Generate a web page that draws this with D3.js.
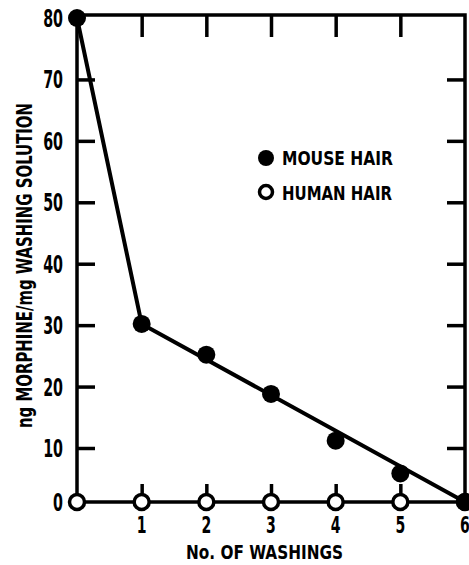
<!DOCTYPE html>
<html>
<head>
<meta charset="utf-8">
<script src="https://cdn.jsdelivr.net/npm/d3@7"></script>
<style>
  body { margin: 0; background: #fff; }
  text { font-family: "DejaVu Sans", sans-serif; font-stretch: condensed; font-weight: bold; fill: #000; }
</style>
</head>
<body>
<svg id="chart" width="469" height="565"></svg>
<script>
// washings 0..6
let washings = [0, 1, 2, 3, 4, 5, 6];
let mouseHair = [80, 30.2, 25.2, 18.8, 11.2, 5.3, 0];
let humanHair = [0, 0, 0, 0, 0, 0, 0];
// hand drawn fit line
let fitX = [0, 1, 6];
let fitY = [80, 30.2, 0];
let yTicks = [0, 10, 20, 30, 40, 50, 60, 70, 80];
let xTicks = [1, 2, 3, 4, 5, 6];

let svg = d3.select("#chart");

let xScale = d3.scaleLinear().domain([0, 6]).range([77, 465]);
// zero sits a little off the linear part in the original
let yScale = d3.scaleLinear().domain([0, 10, 80]).range([502, 448, 18]);

let axisStroke = 3.5;

// squeeze text horizontally like the condensed type of the original
let squeeze = (sel, x, y, sx) => sel.attr("transform", `translate(${x},${y}) scale(${sx},1)`);

// frame: left, top, right, bottom
let frame = svg.append("g").attr("stroke", "#000").attr("stroke-width", axisStroke).attr("fill", "none");
frame.append("path")
  .attr("d", d3.line()([
    [xScale(0), yScale(0)], [xScale(0), yScale(80) - 3], [xScale(6), yScale(80) - 3], [xScale(6), yScale(0)]
  ]));
frame.append("line")
  .attr("x1", xScale(0)).attr("x2", xScale(6))
  .attr("y1", yScale(0)).attr("y2", yScale(0));

// left axis with inward ticks
let leftAxis = d3.axisRight(yScale).tickValues(yTicks.slice(1, -1)).tickSize(18).tickFormat("");
let gl = svg.append("g").attr("transform", `translate(${xScale(0)},0)`).call(leftAxis);
// right axis, ticks pointing left
let rightAxis = d3.axisLeft(yScale).tickValues(yTicks.slice(1, -1)).tickSize(18).tickFormat("");
let gr = svg.append("g").attr("transform", `translate(${xScale(6)},0)`).call(rightAxis);
// top axis, ticks pointing down
let topAxis = d3.axisBottom(xScale).tickValues(xTicks.slice(0, -1)).tickSize(22).tickFormat("");
let gt = svg.append("g").attr("transform", `translate(0,${yScale(80) - 3})`).call(topAxis);
// bottom axis, short ticks up
let bottomAxis = d3.axisTop(xScale).tickValues(xTicks.slice(0, -1)).tickSize(18).tickFormat("");
let gb = svg.append("g").attr("transform", `translate(0,${yScale(0)})`).call(bottomAxis);

[gl, gr, gt, gb].forEach(g => {
  g.select(".domain").remove();
  g.selectAll(".tick line").attr("stroke", "#000").attr("stroke-width", axisStroke);
});

// tick labels
svg.selectAll(".ylab")
  .data(yTicks)
  .enter()
  .append("text")
  .attr("class", "ylab")
  .attr("text-anchor", "end")
  .attr("font-size", 24)
  .text(d => d)
  .each(function (d) { squeeze(d3.select(this), 63, yScale(d) + 9, 0.66); });

svg.selectAll(".xlab")
  .data(xTicks)
  .enter()
  .append("text")
  .attr("class", "xlab")
  .attr("text-anchor", "middle")
  .attr("font-size", 23)
  .text(d => d)
  .each(function (d) { squeeze(d3.select(this), xScale(d), 533, 0.68); });

svg.append("text")
  .attr("x", 186)
  .attr("y", 559)
  .attr("font-size", 20)
  .attr("textLength", 157)
  .attr("lengthAdjust", "spacingAndGlyphs")
  .text("No. OF WASHINGS");

svg.append("text")
  .attr("transform", "translate(32,428) rotate(-90)")
  .attr("font-size", 21)
  .attr("textLength", 325)
  .attr("lengthAdjust", "spacingAndGlyphs")
  .text("ng MORPHINE/mg WASHING SOLUTION");

// fit line
let pts = fitX.map((x, i) => [xScale(x), yScale(fitY[i])]);
svg.append("path")
  .attr("d", d3.line()(pts))
  .attr("fill", "none")
  .attr("stroke", "#000")
  .attr("stroke-width", 4);

// human hair: open circles
svg.selectAll(".human")
  .data(washings)
  .enter()
  .append("circle")
  .attr("cx", d => xScale(d))
  .attr("cy", (d, i) => yScale(humanHair[i]))
  .attr("r", 7.5)
  .attr("fill", "#fff")
  .attr("stroke", "#000")
  .attr("stroke-width", 3.5);

// mouse hair: filled circles
svg.selectAll(".mouse")
  .data(washings)
  .enter()
  .append("circle")
  .attr("cx", d => xScale(d))
  .attr("cy", (d, i) => yScale(mouseHair[i]))
  .attr("r", 9)
  .attr("fill", "#000");

// legend
let legend = svg.append("g");
legend.append("circle").attr("cx", 266).attr("cy", 158).attr("r", 8).attr("fill", "#000");
legend.append("text").attr("x", 282).attr("y", 165).attr("font-size", 20)
  .attr("textLength", 111).attr("lengthAdjust", "spacingAndGlyphs").text("MOUSE HAIR");
legend.append("circle").attr("cx", 266).attr("cy", 192).attr("r", 6.5)
  .attr("fill", "#fff").attr("stroke", "#000").attr("stroke-width", 3.5);
legend.append("text").attr("x", 282).attr("y", 200).attr("font-size", 20)
  .attr("textLength", 110).attr("lengthAdjust", "spacingAndGlyphs").text("HUMAN HAIR");
</script>
</body>
</html>
